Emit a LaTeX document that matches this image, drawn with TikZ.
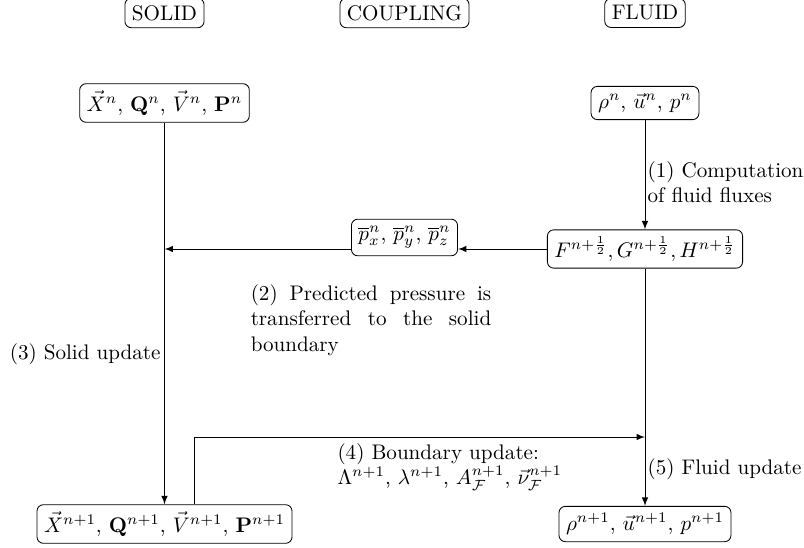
\documentclass[tikz,border=0pt]{standalone}
\usetikzlibrary{calc}
\begin{document}
\begin{tikzpicture}[x=0.474pt,y=-0.474pt,
  box/.style={draw,rounded corners=3pt},
  lab/.style={inner sep=1pt},
  >=latex]
\useasboundingbox (0,0) rectangle (804,548);
% headers
\node[box] (solidh) at (164.5,13) {SOLID};
\node[box] (couph) at (404.5,13) {COUPLING};
\node[box] (fluidh) at (645,13) {FLUID};
% state nodes
\node[box] (Xn) at (164.5,103) {$\vec{X}^n$, $\mathbf{Q}^n$, $\vec{V}^n$, $\mathbf{P}^n$};
\node[box] (rhon) at (645,103) {$\rho^n$, $\vec{u}^n$, $p^n$};
\node[box] (F) at (645,249) {$F^{n+\frac{1}{2}}, G^{n+\frac{1}{2}}, H^{n+\frac{1}{2}}$};
\node[box] (pbar) at (404.5,237.5) {$\overline{p}_x^n$, $\overline{p}_y^n$, $\overline{p}_z^n$};
\node[box] (Xn1) at (164.5,524) {$\vec{X}^{n+1}$, $\mathbf{Q}^{n+1}$, $\vec{V}^{n+1}$, $\mathbf{P}^{n+1}$};
\node[box] (rhon1) at (645,524) {$\rho^{n+1}$, $\vec{u}^{n+1}$, $p^{n+1}$};
% (1)
\draw[->] (rhon) -- (F);
\node[lab,anchor=west,align=left] (l1) at (645,182) {(1) Computation\\of fluid fluxes};
% (2)
\draw[->] (F.west) -- (F.west -| pbar.east);
\draw[->] (F.west -| pbar.west) -- (F.west -| Xn.south);
\node[lab,text width=114pt,align=justify] (l2) at (371,320) {(2) Predicted pressure is transferred to the solid boundary};
% (3)
\draw[->] (Xn) -- (Xn1);
\node[lab,anchor=east] (l3) at (163,354) {(3) Solid update};
% (4)
\coordinate (bu) at (194,437);
\draw[->] (Xn1.north -| bu) -- (bu) -- (bu -| F.south);
\node[lab,anchor=west,align=left] (l4) at (335,467) {(4) Boundary update:\\$\Lambda^{n+1}$, $\lambda^{n+1}$, $A_{\mathcal{F}}^{n+1}$, $\vec{\nu}_{\mathcal{F}}^{n+1}$};
% (5)
\draw[->] (F) -- (rhon1);
\node[lab,anchor=west] (l5) at (645,469) {(5) Fluid update};
\end{tikzpicture}
\end{document}
